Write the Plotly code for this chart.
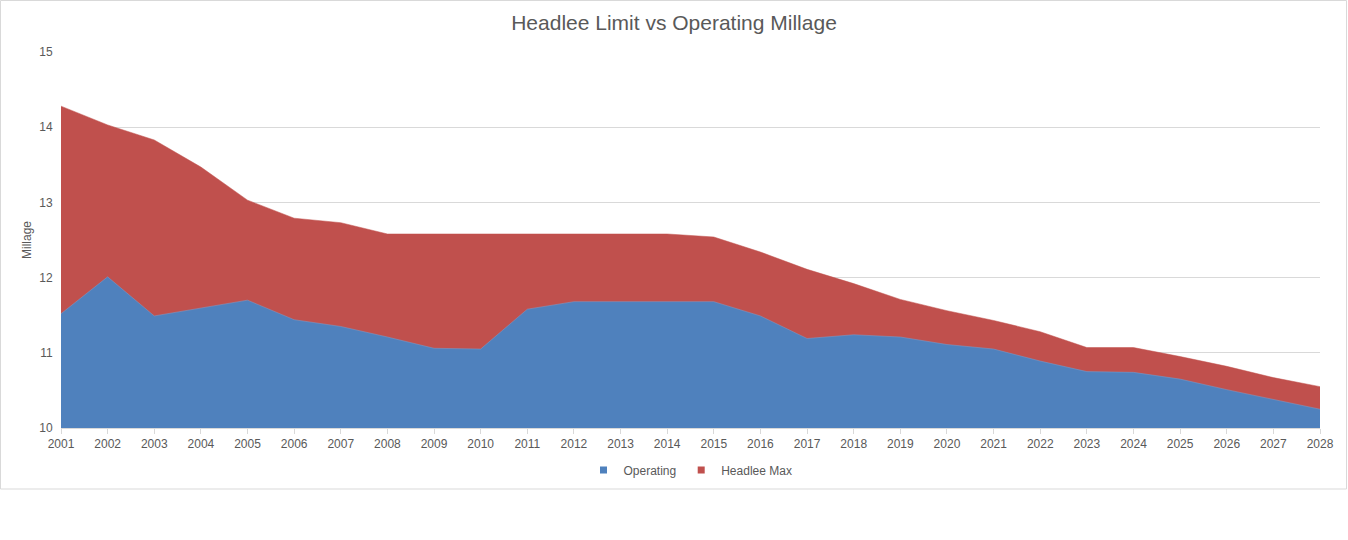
import plotly.graph_objects as go

years = [str(y) for y in range(2001, 2029)]
operating = [11.52, 12.01, 11.49, 11.60, 11.70, 11.44, 11.35, 11.21, 11.06, 11.05,
             11.58, 11.68, 11.68, 11.68, 11.68, 11.49, 11.19, 11.24, 11.21, 11.11,
             11.05, 10.89, 10.75, 10.74, 10.65, 10.51, 10.38, 10.25]
headlee_max = [14.28, 14.03, 13.83, 13.47, 13.03, 12.79, 12.73, 12.58, 12.58, 12.58,
               12.58, 12.58, 12.58, 12.58, 12.54, 12.34, 12.11, 11.92, 11.71, 11.56,
               11.43, 11.28, 11.07, 11.07, 10.95, 10.82, 10.67, 10.55]
y_ticks = [10, 11, 12, 13, 14, 15]

BLUE = "#4F81BD"
RED = "#C0504D"
FONT = "Liberation Sans"

fig = go.Figure()
fig.add_trace(go.Scatter(x=years, y=headlee_max, name="Headlee Max", mode="lines",
                         line=dict(color=RED, width=0.5), fill="tozeroy",
                         fillcolor=RED, showlegend=False))
fig.add_trace(go.Scatter(x=years, y=operating, name="Operating", mode="lines",
                         line=dict(color="#7f9fcc", width=0.5), fill="tozeroy",
                         fillcolor=BLUE, showlegend=False))
# legend entries (square swatches)
fig.add_trace(go.Scatter(x=[None], y=[None], name="Operating", mode="markers",
                         marker=dict(symbol="square", size=7, color=BLUE)))
fig.add_trace(go.Scatter(x=[None], y=[None], name="Headlee Max", mode="markers",
                         marker=dict(symbol="square", size=7, color=RED)))

W, H = 1348, 540
ml, mr, mt, mb = 61, 28, 52, 112
pw, ph = W - ml - mr, H - mt - mb

fig.update_layout(
    width=W, height=H,
    margin=dict(l=ml, r=mr, t=mt, b=mb),
    paper_bgcolor="white", plot_bgcolor="white",
    font=dict(family=FONT, color="#595959", size=12),
    title=dict(text="Headlee Limit vs Operating Millage", x=0.5, xanchor="center",
               y=1 - 23 / H, yanchor="middle",
               font=dict(size=21, color="#595959", family=FONT)),
    showlegend=True,
    legend=dict(orientation="h", x=0.5, xanchor="center", y=(-(470 - 428)) / ph,
                yanchor="middle", font=dict(size=12, color="#595959"),
                traceorder="normal", itemwidth=30),
    xaxis=dict(type="category", range=[0, len(years) - 1], showgrid=False,
               showline=True, linecolor="#d9d9d9", linewidth=1,
               ticks="outside", ticklen=5, tickcolor="#d9d9d9",
               tickfont=dict(size=12, color="#595959")),
    yaxis=dict(range=[10, 15], tickvals=y_ticks, showgrid=True, gridcolor="#d9d9d9",
               gridwidth=1, zeroline=False, showline=False,
               ticks="outside", ticklen=5, tickcolor="white",
               tickfont=dict(size=12, color="#595959"),
               title=dict(text="Millage", font=dict(size=12, color="#595959"), standoff=5)),
    shapes=[dict(type="rect", xref="paper", yref="paper",
                 x0=-(ml - 0.5) / pw, x1=(W - 1.5 - ml) / pw,
                 y0=(428 - 489) / ph, y1=(428 - 0.5) / ph,
                 line=dict(color="#d9d9d9", width=1), fillcolor="rgba(0,0,0,0)",
                 layer="below")],
    hovermode=False,
)
fig.write_html("out.html", config={"displayModeBar": False},
               post_script="document.body.style.margin='0';")
